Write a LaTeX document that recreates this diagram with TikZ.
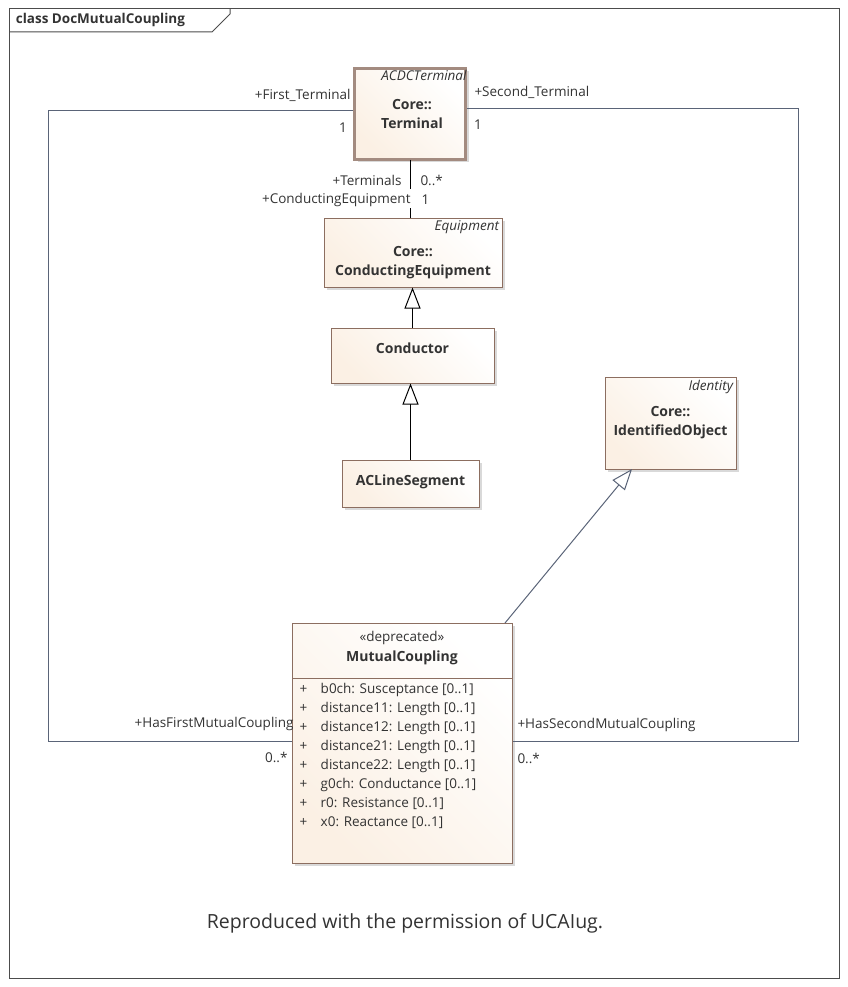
\documentclass[tikz,border=0pt]{standalone}
\usepackage{fontspec}
\setmainfont{Open Sans}
\usetikzlibrary{positioning,shadows,arrows.meta}
\definecolor{edge}{HTML}{8C6E60}
\definecolor{cream}{HTML}{FBF0E4}
\definecolor{link}{HTML}{5A6478}
\begin{document}
\begin{tikzpicture}[x=1pt,y=-1pt,font=\fontsize{13.5}{16}\selectfont,text=black!80,line width=1pt]
\tikzstyle{cls} = [draw=edge,rectangle,top color=cream,bottom color=white,shading angle=135,
  drop shadow={shadow xshift=3pt,shadow yshift=-3pt,fill=black!25,opacity=0.6},inner sep=0pt]
\tikzstyle{lbl} = [inner sep=1pt]
\tikzstyle{bold} = [lbl,font=\fontsize{14}{19}\selectfont\bfseries,align=center]
\tikzstyle{stereo} = [lbl,anchor=north east,font=\fontsize{13.5}{16}\selectfont\itshape]
\tikzstyle{assoc} = [draw=link]
\tikzstyle{gen} = [-{Triangle[length=21pt,width=16pt,fill=white,line width=1pt]}]
\useasboundingbox (0,0) rectangle (847,987);
% frame
\draw[black!70] (9,9) rectangle (839,978);
\draw[black!70] (9,32) -- (212,32) -- (230,14) -- (230,9);
\node[anchor=west,font=\fontsize{13.5}{16}\selectfont\bfseries] (title) at (12,20) {class DocMutualCoupling};
% classes
\node[cls,draw=edge!80,line width=3pt,minimum width=111,minimum height=91] (term) at (410,114) {};
\node[cls,minimum width=178,minimum height=69] (ce) at (413,252.5) {};
\node[cls,minimum width=163,minimum height=55] (cond) at (412.5,355.5) {};
\node[cls,minimum width=137,minimum height=47] (acl) at (410.5,483.5) {};
\node[cls,minimum width=131,minimum height=92] (ido) at (670.5,423) {};
\node[cls,minimum width=220,minimum height=240] (mc) at (402,743) {};
\draw[edge] (292,678) -- (512,678);
% class texts
\node[stereo] at ([shift={(1,2)}]term.north east) {ACDCTerminal};
\node[bold] at (412,114) {Core::\\Terminal};
\node[stereo] at ([shift={(-2,2)}]ce.north east) {Equipment};
\node[bold] at (413,263) {Core::\\ConductingEquipment};
\node[bold] at ([yshift=7]cond) {Conductor};
\node[bold] at ([yshift=2]acl) {ACLineSegment};
\node[stereo] at ([shift={(-2,2)}]ido.north east) {Identity};
\node[bold] at (670.5,423) {Core::\\IdentifiedObject};
\node[lbl] at (402,638) {«deprecated»};
\node[bold] at (402,658) {MutualCoupling};
\node[lbl,anchor=north west,align=left,font=\fontsize{13.5}{19}\selectfont] (attrs) at (298,682)
  {+\quad b0ch: Susceptance [0..1]\\+\quad distance11: Length [0..1]\\+\quad distance12: Length [0..1]\\
   +\quad distance21: Length [0..1]\\+\quad distance22: Length [0..1]\\+\quad g0ch: Conductance [0..1]\\
   +\quad r0: Resistance [0..1]\\+\quad x0: Reactance [0..1]};
% connectors
\coordinate (tl) at (term.west |- 0,111);
\coordinate (tr) at (term.east |- 0,109);
\coordinate (ml) at (mc.west |- 0,741);
\coordinate (mr) at (mc.east |- 0,741);
\draw[assoc] (tl) -| (48,741) -- (ml);
\draw[assoc] (tr) -| (798,741) -- (mr);
\draw[black] (410.5,160) -- (410.5,189);
\draw[black] (410.5,208) -- (410.5,218);
\draw[gen] (cond.north) -- (cond.north |- ce.south);
\draw[gen] (acl.north) -- (acl.north |- cond.south);
\draw[gen,draw=link] (505,623) -- (632,469);
% association labels
\node[lbl,anchor=east] at (352,95) {+First\_Terminal};
\node[lbl] at (343,128) {1};
\node[lbl,anchor=west] at (473,92) {+Second\_Terminal};
\node[lbl] at (478,125) {1};
\node[lbl,anchor=east] at (403,180) {+Terminals};
\node[lbl,anchor=west] at (419,180) {0..*};
\node[lbl,anchor=east] at (412,200) {+ConductingEquipment};
\node[lbl,anchor=west] at (420,200) {1};
\node[lbl,anchor=east] at (295,724) {+HasFirstMutualCoupling};
\node[lbl,anchor=east] at (289,757) {0..*};
\node[lbl,anchor=west] at (516,725) {+HasSecondMutualCoupling};
\node[lbl,anchor=west] at (516,758) {0..*};
\node[lbl,font=\fontsize{19.5}{23}\selectfont] (note) at (405,923) {Reproduced with the permission of UCAIug.};
\end{tikzpicture}
\end{document}
